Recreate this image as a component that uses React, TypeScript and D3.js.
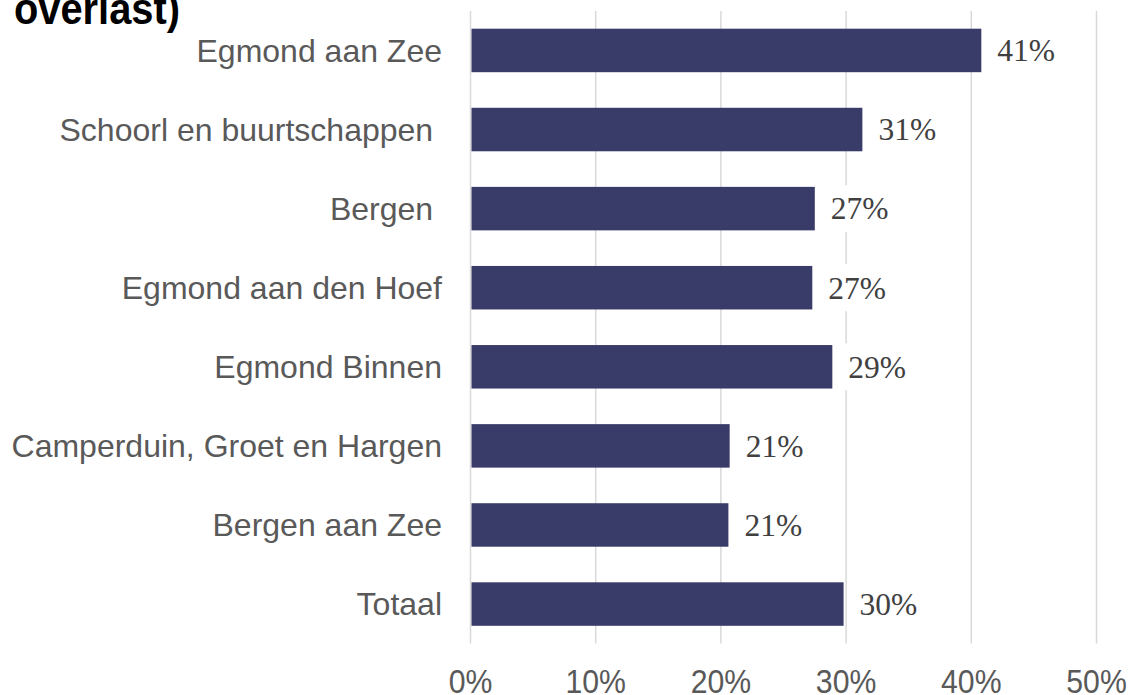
import React from "react";
import * as d3 from "d3";

const categories = [
  "Egmond aan Zee",
  "Schoorl en buurtschappen ",
  "Bergen ",
  "Egmond aan den Hoef",
  "Egmond Binnen",
  "Camperduin, Groet en Hargen",
  "Bergen aan Zee",
  "Totaal",
];
const values = [0.408, 0.313, 0.275, 0.273, 0.289, 0.207, 0.206, 0.298];
const valueLabels = ["41%", "31%", "27%", "27%", "29%", "21%", "21%", "30%"];
const ticks = [0, 0.1, 0.2, 0.3, 0.4, 0.5];
const titleText = "overlast)";

const W = 1132;
const H = 695;

export default function App() {
  const x = d3.scaleLinear().domain([0, 0.5]).range([470.5, 1096.5]);
  const y = d3
    .scaleBand<string>()
    .domain(categories)
    .range([10.9, 643.6])
    .paddingInner(0.45)
    .paddingOuter(0.225);
  const bw = y.bandwidth();
  const fmt = d3.format(".0%");
  const sans = "'Liberation Sans', Arial, sans-serif";
  const serif = "'Liberation Serif', 'Times New Roman', serif";
  const labelFs = 32;
  const valFs = 31.5;
  const valWidth = (s: string) => s.length * 0.5 * valFs + 0.333 * valFs;

  return (
    <svg
      width={W}
      height={H}
      style={{ position: "absolute", left: 0, top: 0, background: "#fff" }}
    >
      <rect x={0} y={0} width={W} height={H} fill="#fff" />
      <text
        x={14}
        y={23.5}
        fontFamily={sans}
        fontWeight="bold"
        fontSize={44}
        fill="#000"
        textLength={166}
        lengthAdjust="spacingAndGlyphs"
      >
        {titleText}
      </text>
      {ticks.map((t) => (
        <line
          key={"g" + t}
          x1={x(t)}
          x2={x(t)}
          y1={11}
          y2={643.6}
          stroke="#D9D9D9"
          strokeWidth={1.5}
        />
      ))}
      {categories.map((c, i) => {
        const yy = y(c)!;
        const xe = x(values[i]);
        const cy = yy + bw / 2;
        return (
          <g key={c}>
            <rect
              x={x(0) + 1}
              y={yy}
              width={xe - x(0) - 1}
              height={bw}
              fill="#393C69"
            />
            <rect
              x={xe + 8}
              y={cy - 23.5}
              width={valWidth(valueLabels[i]) + 16}
              height={47}
              fill="#fff"
            />
            <text
              x={xe + 16}
              y={cy + 10.8}
              fontFamily={serif}
              fontSize={valFs}
              fill="#404040"
            >
              {valueLabels[i]}
            </text>
            <text
              x={442}
              y={cy + 11.4}
              textAnchor="end"
              fontFamily={sans}
              fontSize={labelFs}
              fill="#595959"
              style={{ whiteSpace: "pre" }}
            >
              {c}
            </text>
          </g>
        );
      })}
      {ticks.map((t) => (
        <text
          key={"t" + t}
          transform={`translate(${x(t)},692.5) scale(0.93,1)`}
          textAnchor="middle"
          fontFamily={sans}
          fontSize={32.5}
          fill="#595959"
        >
          {fmt(t)}
        </text>
      ))}
    </svg>
  );
}
